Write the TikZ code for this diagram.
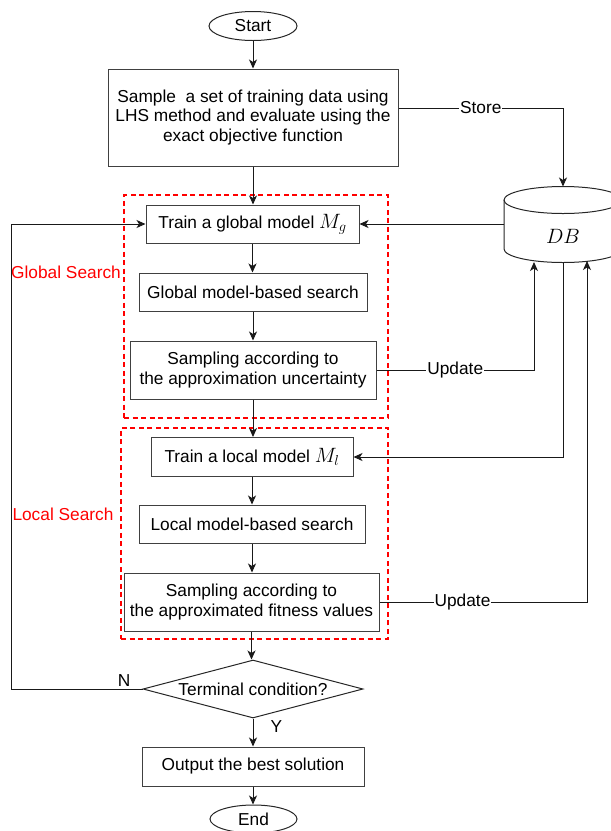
\documentclass[tikz,border=0pt]{standalone}
\usepackage{fontspec}
\setmainfont{Liberation Sans}
\usetikzlibrary{shapes.geometric,arrows.meta}
\newcommand{\bigmath}[1]{{\fontsize{20}{20}\selectfont$#1$}}
\begin{document}
\begin{tikzpicture}[x=1pt,y=-1pt,
  every node/.style={font=\fontsize{17.3}{19.5}\selectfont, inner sep=0pt, align=center},
  box/.style={draw=black!75, line width=1pt, rectangle},
  oval/.style={draw=black!85, line width=1pt, ellipse},
  cond/.style={draw=black!85, line width=1pt, diamond, aspect=3.8},
  arr/.style={draw=black!90, line width=1pt, -{Stealth[length=9pt,width=8pt,inset=2.5pt]}},
  link/.style={draw=black!85, line width=1pt},
  lbl/.style={fill=white, inner xsep=1pt},
  redbox/.style={draw=red, line width=1.4pt, dash pattern=on 5pt off 3.5pt},
  redlbl/.style={text=red}
]
\useasboundingbox (0,0) rectangle (611,831);

% red dashed regions
\node[redbox, minimum width=264, minimum height=223] (gbox) at (256,306.5) {};
\node[redbox, minimum width=267, minimum height=211] (lbox) at (254.5,533.3) {};
\node[redlbl] (glabel) at (66,272) {Global Search};
\node[redlbl] (llabel) at (63,514) {Local Search};

% flow nodes
\node[oval, minimum width=88, minimum height=29] (start) at (253,26) {Start};
\node[box, minimum width=290, minimum height=97] (sample) at (253,117.5)
  {Sample\ \ a set of training data using\\LHS method and evaluate using the\\exact objective function};
\node[box, minimum width=213, minimum height=38] (traing) at (252.5,224) {Train a global model \bigmath{M_g}};
\node[box, minimum width=228, minimum height=38] (gsearch) at (253,292) {Global model-based search};
\node[box, minimum width=246, minimum height=58] (gsamp) at (253,370) {Sampling according to\\the approximation uncertainty};
\node[box, minimum width=202, minimum height=39] (trainl) at (252,457) {Train a local model \bigmath{M_l}};
\node[box, minimum width=226, minimum height=38] (lsearch) at (252,524) {Local model-based search};
\node[box, minimum width=255, minimum height=58] (lsamp) at (251.5,602) {Sampling according to\\the approximated fitness values};
\node[cond, minimum width=220, minimum height=58] (term) at (253,689) {Terminal condition?};
\node[box, minimum width=222, minimum height=39] (output) at (253,766.5) {Output the best solution};
\node[oval, minimum width=87, minimum height=28] (end) at (253.5,819) {End};

% database cylinder
\begin{scope}
  \clip (0,0) rectangle (611,831);
  \draw[link] (504,200) -- (504,249) arc[start angle=180, end angle=0, x radius=59, y radius=13.5] -- (622,200);
  \draw[link] (563,200) ellipse [x radius=59, y radius=13.5];
\end{scope}
\node (db) at (563,236) {\bigmath{DB}};
\coordinate (dbtop) at (563,186.5);
\coordinate (dbleft) at (504,224);
\coordinate (dbb1) at (534,262);
\coordinate (dbb2) at (563,262.5);
\coordinate (dbb3) at (587,261);
\coordinate (loopc) at (11,224);

% main flow
\draw[arr] (start) -- (sample);
\draw[arr] (sample.south) -- (sample.south |- traing.north);
\draw[arr] (traing.south) -- (traing.south |- gsearch.north);
\draw[arr] (gsearch.south) -- (gsearch.south |- gsamp.north);
\draw[arr] (gsamp.south) -- (gsamp.south |- trainl.north);
\draw[arr] (trainl.south) -- (trainl.south |- lsearch.north);
\draw[arr] (lsearch.south) -- (lsearch.south |- lsamp.north);
\draw[arr] (lsamp.south) -- (lsamp.south |- term.north);
\draw[arr] (term.south) -- node[pos=0.3, right=17pt] {Y} (term.south |- output.north);
\draw[arr] (output.south) -- (output.south |- end.north);

% loop back
\draw[arr] (term.west) -| node[pos=0.07, above=2pt] {N} (loopc) -- (traing.west);

% database links
\draw[arr] ([yshift=9.5pt]sample.east) -| node[pos=0.25, lbl] {Store} (dbtop);
\draw[arr] (dbleft) -- (traing.east);
\draw[arr] (gsamp.east) -| node[pos=0.25, lbl] {Update} (dbb1);
\draw[arr] (dbb2) |- (trainl.east);
\draw[arr] (lsamp.east) -| node[pos=0.2, lbl] {Update} (dbb3);
\end{tikzpicture}
\end{document}
